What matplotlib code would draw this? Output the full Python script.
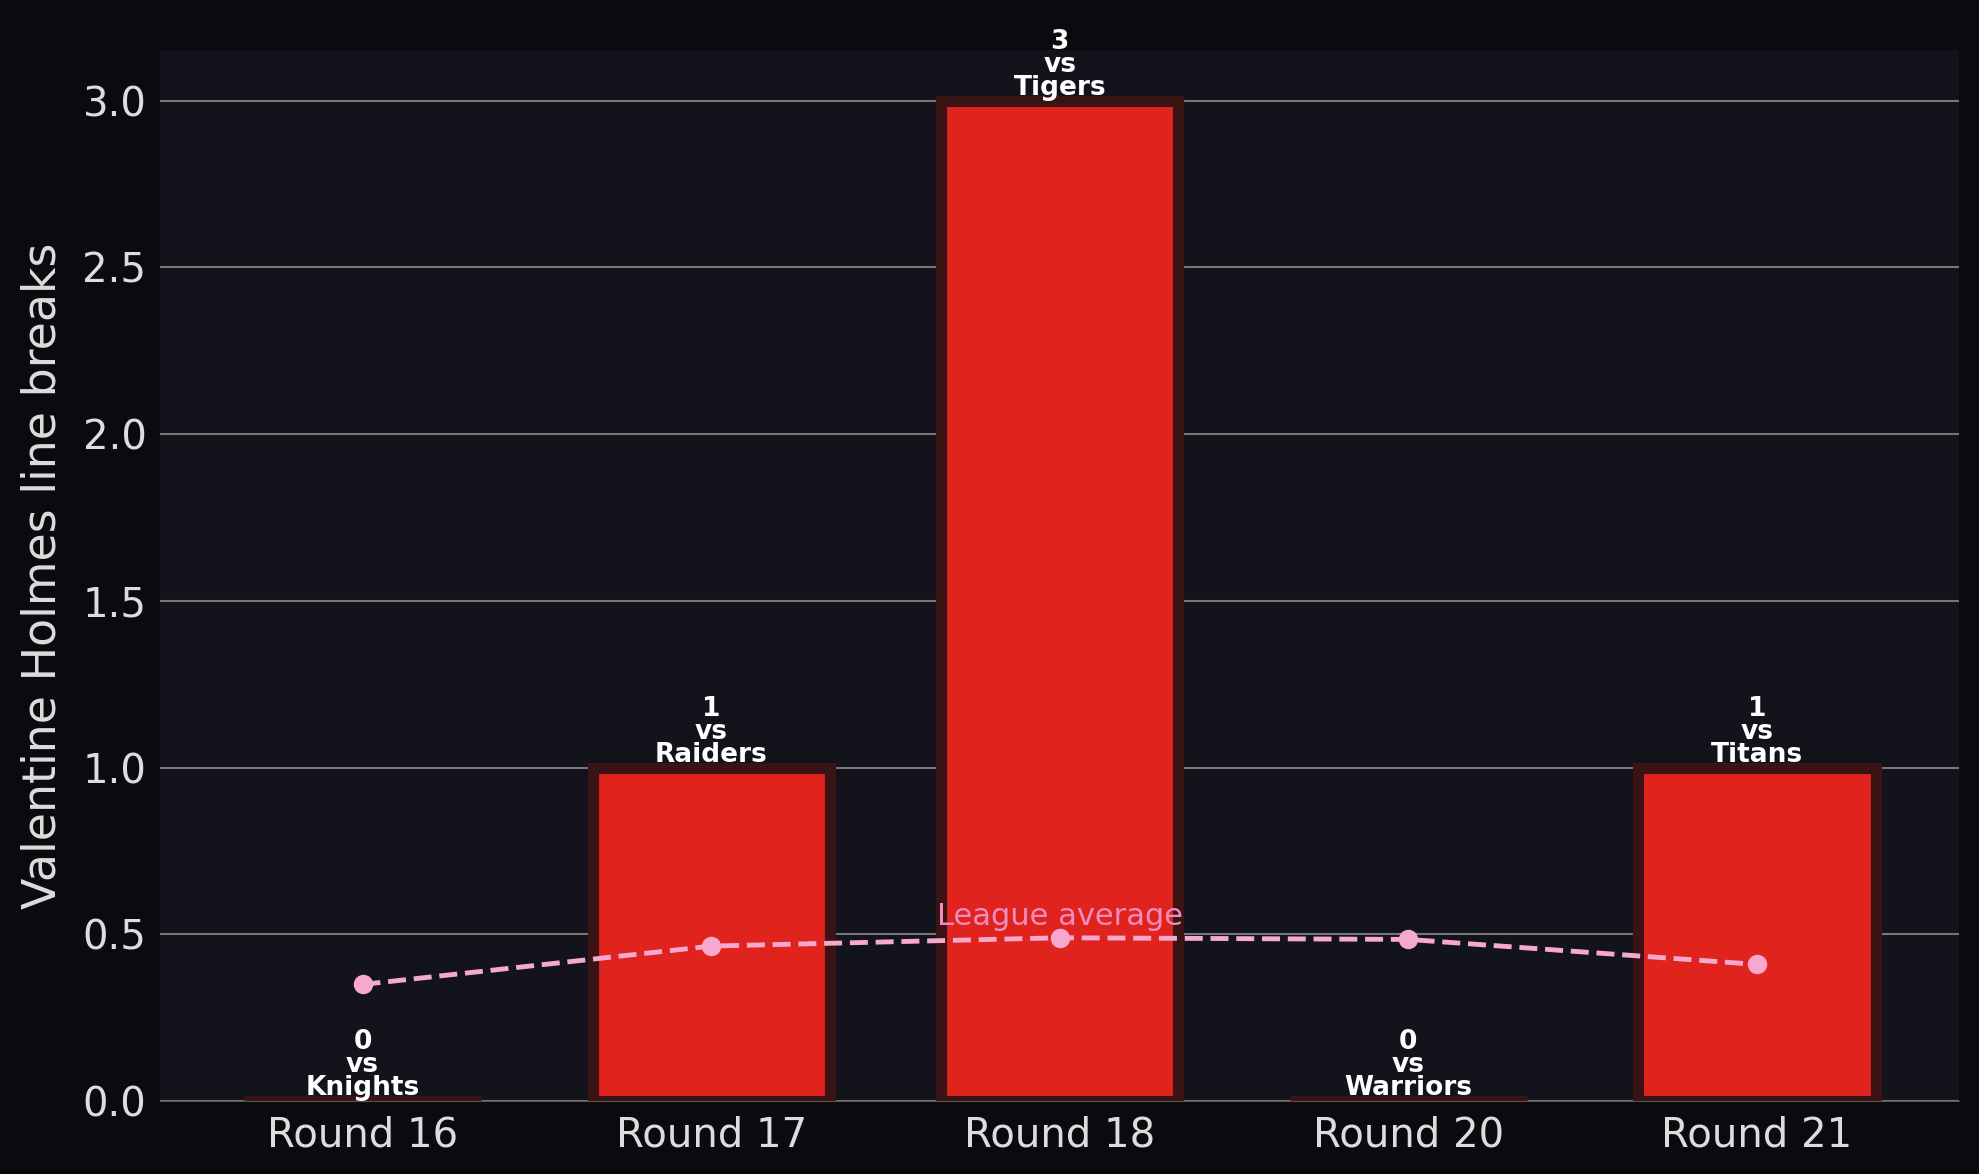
import matplotlib
matplotlib.use("Agg")
import matplotlib.pyplot as plt
import numpy as np

rounds = ["Round 16", "Round 17", "Round 18", "Round 20", "Round 21"]
opponents = ["Knights", "Raiders", "Tigers", "Warriors", "Titans"]
breaks = [0, 1, 3, 0, 1]
league_avg = [0.35, 0.465, 0.49, 0.485, 0.41]

fig = plt.figure(figsize=(19.79, 11.74), dpi=100, facecolor="#0b0b0f")
ax = fig.add_axes([0.081, 0.062, 0.909, 0.895], facecolor="#12131b")
x = np.arange(len(rounds))
ax.bar(x, breaks, width=0.68, color="#e0231d", edgecolor="#3a1414", linewidth=8, zorder=2)
ax.plot(x, league_avg, "--", color="#f7a8cf", lw=3.5, marker="o", ms=13, zorder=3)
ax.text(x[2], league_avg[2] + 0.02, "League average", color="#f08cbf", fontsize=22,
        ha="center", va="bottom", zorder=4)
for xi, b, o in zip(x, breaks, opponents):
    ax.text(xi, b, f"{b}\nvs\n{o}", color="white", fontsize=19, fontweight="bold",
            ha="center", va="bottom", linespacing=0.85, zorder=5)
ax.set_ylim(0, 3.15)
ax.set_xlim(-0.58, 4.58)
ax.set_xticks(x)
ax.set_xticklabels(rounds)
ax.set_yticks(np.arange(0, 3.01, 0.5))
ax.set_yticklabels([f"{v:.1f}" for v in np.arange(0, 3.01, 0.5)])
ax.tick_params(colors="#dddddd", labelsize=29, length=0, pad=10)
ax.grid(axis="y", color="#777777", lw=1.5, zorder=0)
ax.set_axisbelow(True)
for s in ax.spines.values():
    s.set_visible(False)
ax.spines["bottom"].set_visible(True)
ax.spines["bottom"].set_color("#555555")
ax.set_ylabel("Valentine Holmes line breaks", color="#dddddd", fontsize=33, labelpad=12)
fig.savefig("out.png", dpi=100, facecolor=fig.get_facecolor())
